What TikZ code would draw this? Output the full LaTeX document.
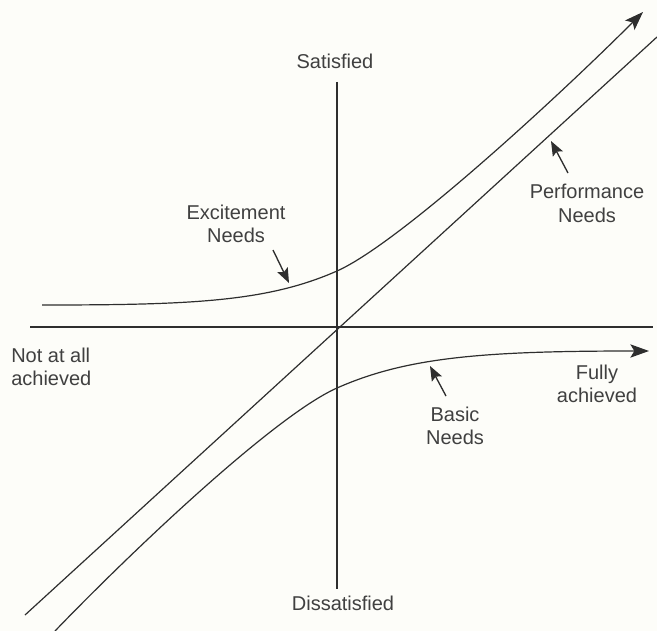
\documentclass[tikz,border=0pt]{standalone}
\usepackage{fontspec}
\setmainfont{Liberation Sans}
\usetikzlibrary{arrows.meta}
\definecolor{ink}{HTML}{2E2E2E}
\definecolor{txt}{HTML}{404040}
\definecolor{paper}{HTML}{FDFDF9}
\begin{document}
\begin{tikzpicture}[x=0.75pt,y=-0.75pt,
  curve/.style={draw=ink, line width=0.9pt},
  axis/.style={draw=ink, line width=0.8pt},
  lbl/.style={text=txt, font=\fontsize{15}{17.6}\selectfont, align=center, inner sep=0pt},
  pointer/.style={draw=ink, line width=1pt, -{Stealth[length=11pt,width=8.5pt,inset=2pt]}},
  bigtip/.style={-{Stealth[length=14pt,width=10pt,inset=3pt]}}]
\fill[paper] (0,0) rectangle (657,631);
\useasboundingbox (0,0) rectangle (657,631);

% axes
\coordinate (xl) at (30,327);
\coordinate (xr) at (653,327);
\coordinate (yt) at (337,82);
\coordinate (yb) at (337,589);
\draw[axis] (xl) -- (xr);
\draw[axis] (yt) -- (yb);

% performance needs: straight diagonal
\coordinate (dl) at (25,615);
\coordinate (dr) at (657,37);
\draw[curve] (dl) -- (dr);

% excitement needs
\coordinate (e0) at (42,305);
\coordinate (e1) at (337,271);
\coordinate (e2) at (643,12);
\draw[curve, bigtip] (e0) .. controls (190,305) and (267,302) .. (e1)
  .. controls (400,243) and (560,95) .. (e2);

% basic needs
\coordinate (b0) at (55,631);
\coordinate (b1) at (337,388);
\coordinate (b2) at (649,351);
\draw[curve, bigtip] (b0) .. controls (130,553) and (274,416) .. (b1)
  .. controls (407,357) and (484,351) .. (b2);

% labels
\node[lbl] (sat) at (335,61.5) {Satisfied};
\node[lbl] (dis) at (343,603.5) {Dissatisfied};
\node[lbl, align=left, anchor=west] (notat) at (11,367) {Not at all\\achieved};
\node[lbl] (fully) at (597,384) {Fully\\achieved};
\node[lbl] (exc) at (236,224) {Excitement\\Needs};
\node[lbl] (basic) at (455,426) {Basic\\Needs};
\node[lbl] (perf) at (587,203.5) {Performance\\Needs};

% pointers from labels to curves
\coordinate (excTail) at (273,250);
\coordinate (excTip) at (289,283);
\coordinate (basTail) at (446,396);
\coordinate (basTip) at (430,366);
\coordinate (perTail) at (568,173);
\coordinate (perTip) at (551,141);
\draw[pointer] (excTail) -- (excTip);
\draw[pointer] (basTail) -- (basTip);
\draw[pointer] (perTail) -- (perTip);
\end{tikzpicture}
\end{document}
